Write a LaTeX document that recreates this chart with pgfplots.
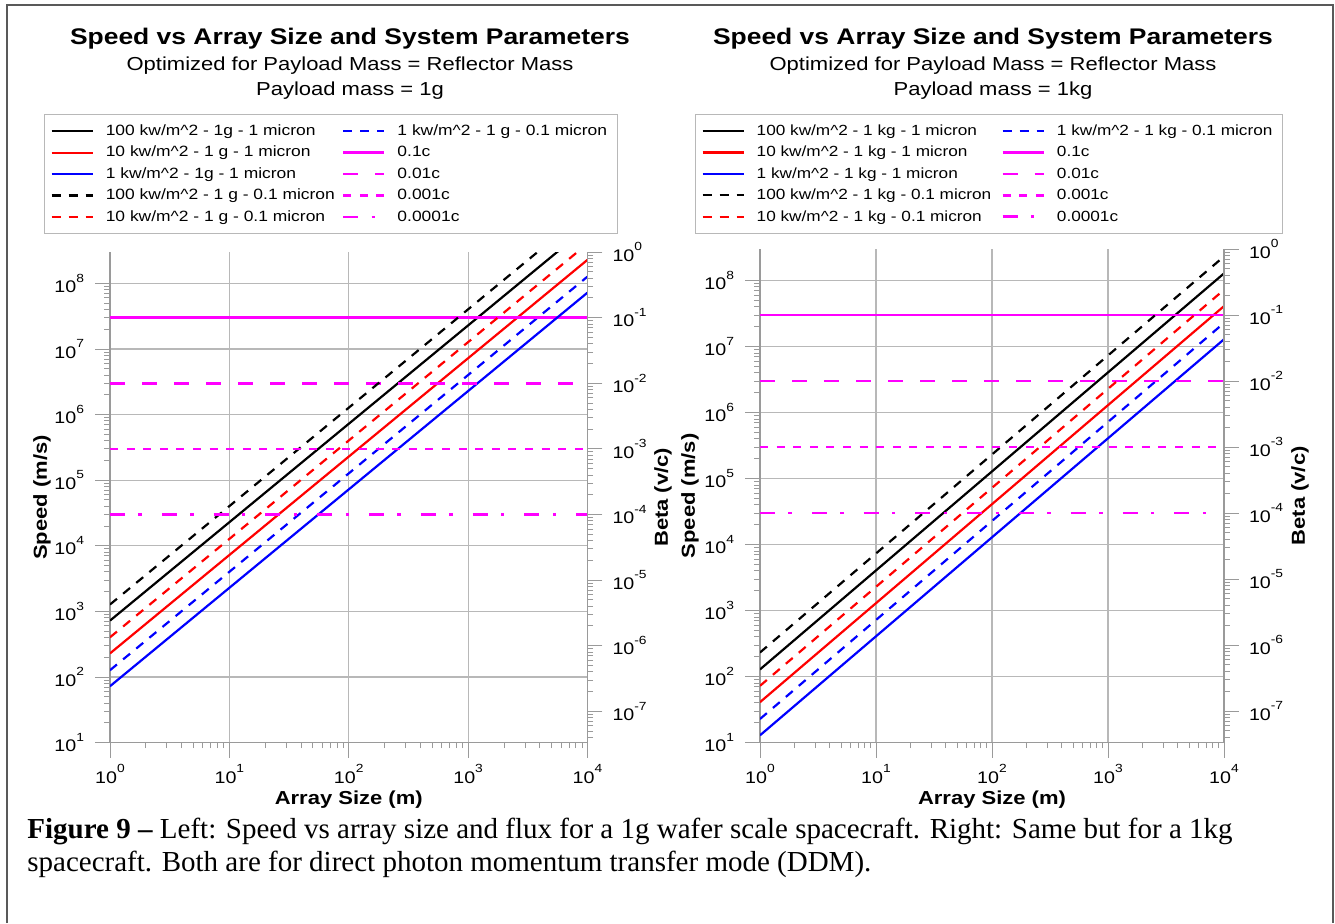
\documentclass[border=0pt]{standalone}
\usepackage{fontspec}
\setmainfont{Liberation Serif}
\newfontfamily\chartfont{Liberation Sans}[FakeStretch=1.17]
\usepackage{pgfplots}
\pgfplotsset{compat=1.18}

\definecolor{mag}{HTML}{FF00FF}
\definecolor{gridgray}{HTML}{B8B8B8}
\definecolor{axgray}{HTML}{9A9A9A}
\newcommand{\kw}{kw/m\textasciicircum 2}

\pgfplotsset{
  log number format basis/.code 2 args={#1\raisebox{5.2pt}{\fontsize{5.9}{6}\selectfont\pgfmathprintnumber{#2}}},
  legend image code/.code={\draw[#1] (0pt,0pt) -- (20.5pt,0pt);},
  ks/.style={black, line width=1.1pt},
  kd/.style={black, line width=1.1pt, dash pattern=on 4.5pt off 4pt},
  rs/.style={red, line width=1.1pt},
  rd/.style={red, line width=1.1pt, dash pattern=on 4.5pt off 4pt},
  bs/.style={blue, line width=1.1pt},
  bd/.style={blue, line width=1.1pt, dash pattern=on 4.5pt off 4pt},
  c1/.style={mag, line width=1.3pt},
  c2/.style={mag, line width=1.3pt, dash pattern=on 7.5pt off 8.5pt},
  c3/.style={mag, line width=1.3pt, dash pattern=on 4pt off 4.3pt},
  c4/.style={mag, line width=1.3pt, dash pattern=on 7.5pt off 6.7pt on 1.7pt off 10pt},
}

\begin{document}
\begin{tikzpicture}
\begin{scope}[x=0.5pt, y=-0.5pt]
\useasboundingbox (0,0) rectangle (1335,923);
\fill[white] (0,0) rectangle (1335,923);
\draw[line width=1pt, draw=black!65] (7,923) -- (7,5) -- (1333,5) -- (1333,923);

% titles
\node[anchor=base, font=\chartfont\bfseries\fontsize{11.3}{13}\selectfont] at (350,44.3) {Speed vs Array Size and System Parameters};
\node[anchor=base, font=\chartfont\fontsize{9.4}{11}\selectfont] at (350,70.7) {Optimized for Payload Mass = Reflector Mass};
\node[anchor=base, font=\chartfont\fontsize{9.4}{11}\selectfont] at (350,95.5) {Payload mass = 1g};
\node[anchor=base, font=\chartfont\bfseries\fontsize{11.3}{13}\selectfont] at (993,44.3) {Speed vs Array Size and System Parameters};
\node[anchor=base, font=\chartfont\fontsize{9.4}{11}\selectfont] at (993,70.7) {Optimized for Payload Mass = Reflector Mass};
\node[anchor=base, font=\chartfont\fontsize{9.4}{11}\selectfont] at (993,95.5) {Payload mass = 1kg};

% caption
\node[anchor=base west, inner sep=0pt, font=\fontsize{14.5}{17}\selectfont] at (27,838)
  {\textbf{Figure 9 –} Left: Speed vs array size and flux for a 1g wafer scale spacecraft. Right: Same but for a 1kg};
\node[anchor=base west, inner sep=0pt, font=\fontsize{14.5}{17}\selectfont] at (27,871.5)
  {spacecraft. Both are for direct photon momentum transfer mode (DDM).};
\end{scope}

% ---------- left panel: 1 g ----------
\begin{axis}[at={(55pt,-371.3pt)}, anchor=south west, width=238.75pt, height=245.25pt,
  scale only axis, xmode=log, ymode=log, xmin=1, xmax=1e4, ymin=10, ymax=3e8,
  /pgf/number format/assume math mode=true,
  axis x line*=bottom, axis y line*=left,
  axis line style={-, draw=axgray, line width=0.6pt},
  tick align=outside, major tick length=7.5pt, minor tick length=2.8pt,
  tick style={draw=axgray, line width=0.5pt},
  tick label style={font=\chartfont\fontsize{8.4}{9}\selectfont, text=black},
  yticklabel style={xshift=-2pt},
  label style={font=\chartfont\bfseries\fontsize{9.4}{11}\selectfont},
  grid=major, major grid style={draw=gridgray, line width=0.6pt},
  xlabel={Array Size (m)}, ylabel={Speed (m/s)},
  ylabel style={at={(axis description cs:-0.1424,0.5)}, anchor=center},
  xlabel style={at={(axis description cs:0.5,-0.117)}, anchor=center},
  legend columns=2, legend cell align=left,
  legend style={at={(-0.138,1.2815)}, anchor=north west, draw=gridgray, line width=0.5pt, fill=white,
    font=\chartfont\fontsize{7.45}{9}\selectfont,
    inner xsep=3pt, inner ysep=3pt, row sep=0pt,
    nodes={text height=6pt, text depth=1.7pt, inner ysep=1.5pt},
    /tikz/every odd column/.append style={column sep=4pt},
    /tikz/every even column/.append style={column sep=1.5pt}}]
\addplot[ks] coordinates {(1,724) (1e4,7.24e8)};
\addlegendentry{100 \kw\ - 1g - 1 micron}
\addplot[bd] coordinates {(1,127) (1e4,1.27e8)};
\addlegendentry{1 \kw\ - 1 g - 0.1 micron}
\addplot[rs] coordinates {(1,229) (1e4,2.29e8)};
\addlegendentry{10 \kw\ - 1 g - 1 micron}
\addplot[c1] coordinates {(1,3e7) (1e4,3e7)};
\addlegendentry{0.1c}
\addplot[bs] coordinates {(1,72.4) (1e4,7.24e7)};
\addlegendentry{1 \kw\ - 1g - 1 micron}
\addplot[c2] coordinates {(1,3e6) (1e4,3e6)};
\addlegendentry{0.01c}
\addplot[kd] coordinates {(1,1274) (1e4,1.274e9)};
\addlegendentry{100 \kw\ - 1 g - 0.1 micron}
\addplot[c3] coordinates {(1,3e5) (1e4,3e5)};
\addlegendentry{0.001c}
\addplot[rd] coordinates {(1,403) (1e4,4.03e8)};
\addlegendentry{10 \kw\ - 1 g - 0.1 micron}
\addplot[c4] coordinates {(1,3e4) (1e4,3e4)};
\addlegendentry{0.0001c}
\end{axis}
\begin{axis}[at={(55pt,-371.3pt)}, anchor=south west, width=238.75pt, height=245.25pt,
  scale only axis, xmode=log, ymode=log, xmin=1, xmax=1e4, ymin=3.3333e-8, ymax=1,
  /pgf/number format/assume math mode=true,
  axis y line*=right, axis x line=none,
  axis line style={-, draw=axgray, line width=0.6pt},
  tick align=outside, major tick length=7.5pt, minor tick length=2.8pt,
  tick style={draw=axgray, line width=0.5pt},
  tick label style={font=\chartfont\fontsize{8.4}{9}\selectfont, text=black},
  yticklabel style={xshift=1.5pt},
  label style={font=\chartfont\bfseries\fontsize{9.4}{11}\selectfont},
  ylabel={Beta (v/c)},
  ylabel style={at={(axis description cs:1.158,0.5)}, anchor=center}]
\addplot[draw=none] coordinates {(1,1e-3)};
\end{axis}

% ---------- right panel: 1 kg ----------
\begin{axis}[at={(380pt,-371.3pt)}, anchor=south west, width=232pt, height=246.75pt,
  scale only axis, xmode=log, ymode=log, xmin=1, xmax=1e4, ymin=10, ymax=3e8,
  /pgf/number format/assume math mode=true,
  axis x line*=bottom, axis y line*=left,
  axis line style={-, draw=axgray, line width=0.6pt},
  tick align=outside, major tick length=7.5pt, minor tick length=2.8pt,
  tick style={draw=axgray, line width=0.5pt},
  tick label style={font=\chartfont\fontsize{8.4}{9}\selectfont, text=black},
  yticklabel style={xshift=-2pt},
  label style={font=\chartfont\bfseries\fontsize{9.4}{11}\selectfont},
  grid=major, major grid style={draw=gridgray, line width=0.6pt},
  xlabel={Array Size (m)}, ylabel={Speed (m/s)},
  ylabel style={at={(axis description cs:-0.151,0.5)}, anchor=center},
  xlabel style={at={(axis description cs:0.5,-0.1163)}, anchor=center},
  legend columns=2, legend cell align=left,
  legend style={at={(-0.140,1.2738)}, anchor=north west, draw=gridgray, line width=0.5pt, fill=white,
    font=\chartfont\fontsize{7.35}{9}\selectfont,
    inner xsep=3pt, inner ysep=3pt, row sep=0pt,
    nodes={text height=6pt, text depth=1.7pt, inner ysep=1.5pt},
    /tikz/every odd column/.append style={column sep=4pt},
    /tikz/every even column/.append style={column sep=3pt}}]
\addplot[ks] coordinates {(1,128.5) (1e4,1.285e8)};
\addlegendentry{100 \kw\ - 1 kg - 1 micron}
\addplot[bd] coordinates {(1,22.8) (1e4,2.28e7)};
\addlegendentry{1 \kw\ - 1 kg - 0.1 micron}
\addplot[rs] coordinates {(1,41) (1e4,4.1e7)};
\addlegendentry{10 \kw\ - 1 kg - 1 micron}
\addplot[c1] coordinates {(1,3e7) (1e4,3e7)};
\addlegendentry{0.1c}
\addplot[bs] coordinates {(1,12.9) (1e4,1.29e7)};
\addlegendentry{1 \kw\ - 1 kg - 1 micron}
\addplot[c2] coordinates {(1,3e6) (1e4,3e6)};
\addlegendentry{0.01c}
\addplot[kd] coordinates {(1,232) (1e4,2.32e8)};
\addlegendentry{100 \kw\ - 1 kg - 0.1 micron}
\addplot[c3] coordinates {(1,3e5) (1e4,3e5)};
\addlegendentry{0.001c}
\addplot[rd] coordinates {(1,72.5) (1e4,7.25e7)};
\addlegendentry{10 \kw\ - 1 kg - 0.1 micron}
\addplot[c4] coordinates {(1,3e4) (1e4,3e4)};
\addlegendentry{0.0001c}
\end{axis}
\begin{axis}[at={(380pt,-371.3pt)}, anchor=south west, width=232pt, height=246.75pt,
  scale only axis, xmode=log, ymode=log, xmin=1, xmax=1e4, ymin=3.3333e-8, ymax=1,
  /pgf/number format/assume math mode=true,
  axis y line*=right, axis x line=none,
  axis line style={-, draw=axgray, line width=0.6pt},
  tick align=outside, major tick length=7.5pt, minor tick length=2.8pt,
  tick style={draw=axgray, line width=0.5pt},
  tick label style={font=\chartfont\fontsize{8.4}{9}\selectfont, text=black},
  yticklabel style={xshift=1.5pt},
  label style={font=\chartfont\bfseries\fontsize{9.4}{11}\selectfont},
  ylabel={Beta (v/c)},
  ylabel style={at={(axis description cs:1.1638,0.5)}, anchor=center}]
\addplot[draw=none] coordinates {(1,1e-3)};
\end{axis}
\end{tikzpicture}
\end{document}
